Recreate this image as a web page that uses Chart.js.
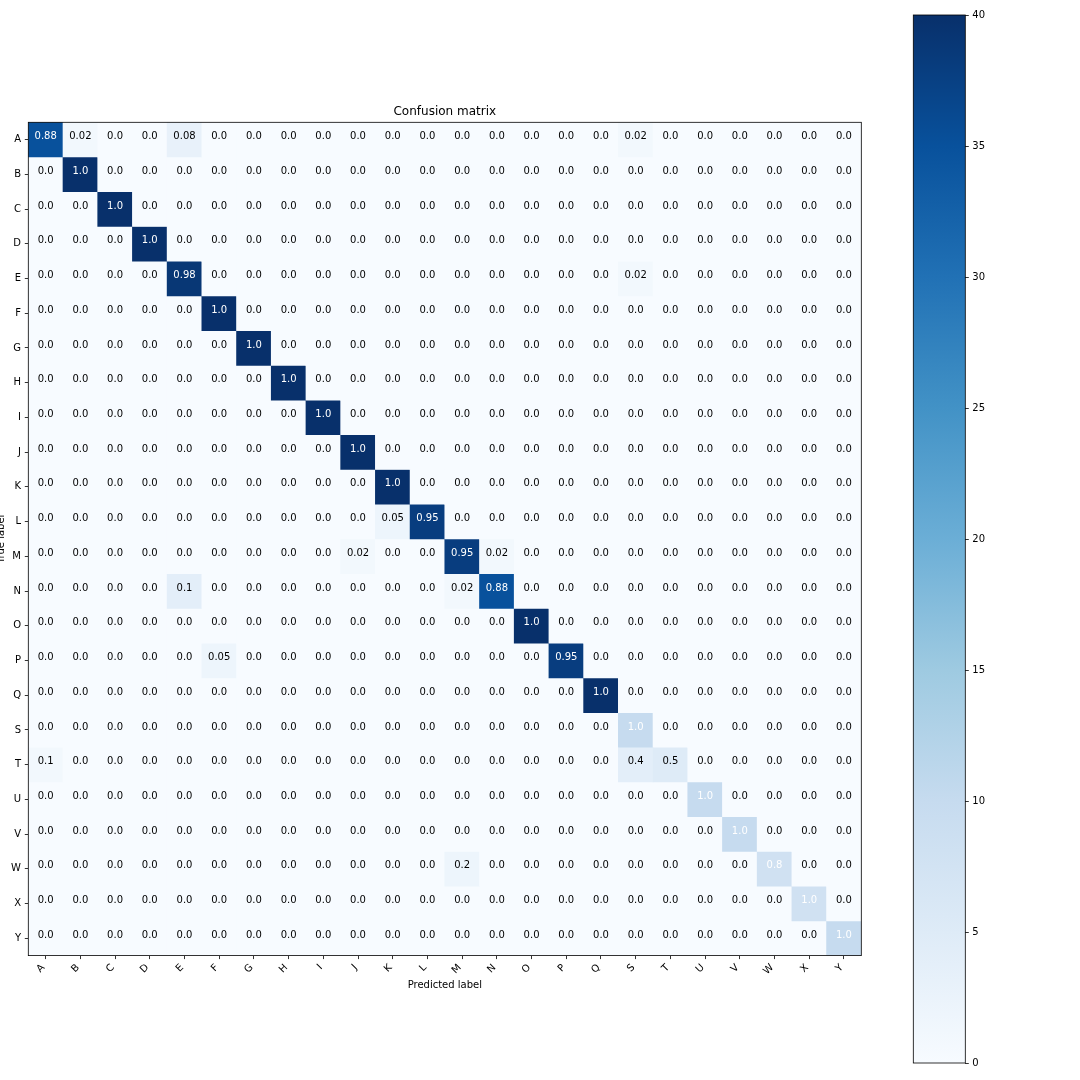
<!DOCTYPE html>
<html>
<head>
<meta charset="utf-8">
<script src="https://cdn.jsdelivr.net/npm/chart.js@4.4.1/dist/chart.umd.min.js"></script>
<style>
  html, body { margin: 0; padding: 0; background: #ffffff; }
  #wrap { position: relative; width: 1080px; height: 1080px; overflow: hidden; }
  #main { position: absolute; left: 0; top: 0; }
  #cbar { position: absolute; left: 900px; top: 0; }
</style>
</head>
<body>
<div id="wrap">
  <canvas id="main" width="1080" height="1080"></canvas>
  <canvas id="cbar" width="180" height="1080"></canvas>
</div>
<script>
// ---------------- DATA ----------------
const rowLabels = ['A','B','C','D','E','F','G','H','I','J','K','L','M','N','O','P','Q','S','T','U','V','W','X','Y'];
const colLabels = ['A','B','C','D','E','F','G','H','I','J','K','L','M','N','O','P','Q','S','T','U','V','W','X','Y'];

// Normalized rates shown as cell text (rows = true label, cols = predicted label)
const cellRates = [
  [0.88,0.02,0,0,0.08,0,0,0,0,0,0,0,0,0,0,0,0,0.02,0,0,0,0,0,0],
  [0,1,0,0,0,0,0,0,0,0,0,0,0,0,0,0,0,0,0,0,0,0,0,0],
  [0,0,1,0,0,0,0,0,0,0,0,0,0,0,0,0,0,0,0,0,0,0,0,0],
  [0,0,0,1,0,0,0,0,0,0,0,0,0,0,0,0,0,0,0,0,0,0,0,0],
  [0,0,0,0,0.98,0,0,0,0,0,0,0,0,0,0,0,0,0.02,0,0,0,0,0,0],
  [0,0,0,0,0,1,0,0,0,0,0,0,0,0,0,0,0,0,0,0,0,0,0,0],
  [0,0,0,0,0,0,1,0,0,0,0,0,0,0,0,0,0,0,0,0,0,0,0,0],
  [0,0,0,0,0,0,0,1,0,0,0,0,0,0,0,0,0,0,0,0,0,0,0,0],
  [0,0,0,0,0,0,0,0,1,0,0,0,0,0,0,0,0,0,0,0,0,0,0,0],
  [0,0,0,0,0,0,0,0,0,1,0,0,0,0,0,0,0,0,0,0,0,0,0,0],
  [0,0,0,0,0,0,0,0,0,0,1,0,0,0,0,0,0,0,0,0,0,0,0,0],
  [0,0,0,0,0,0,0,0,0,0,0.05,0.95,0,0,0,0,0,0,0,0,0,0,0,0],
  [0,0,0,0,0,0,0,0,0,0.02,0,0,0.95,0.02,0,0,0,0,0,0,0,0,0,0],
  [0,0,0,0,0.1,0,0,0,0,0,0,0,0.02,0.88,0,0,0,0,0,0,0,0,0,0],
  [0,0,0,0,0,0,0,0,0,0,0,0,0,0,1,0,0,0,0,0,0,0,0,0],
  [0,0,0,0,0,0.05,0,0,0,0,0,0,0,0,0,0.95,0,0,0,0,0,0,0,0],
  [0,0,0,0,0,0,0,0,0,0,0,0,0,0,0,0,1,0,0,0,0,0,0,0],
  [0,0,0,0,0,0,0,0,0,0,0,0,0,0,0,0,0,1,0,0,0,0,0,0],
  [0.1,0,0,0,0,0,0,0,0,0,0,0,0,0,0,0,0,0.4,0.5,0,0,0,0,0],
  [0,0,0,0,0,0,0,0,0,0,0,0,0,0,0,0,0,0,0,1,0,0,0,0],
  [0,0,0,0,0,0,0,0,0,0,0,0,0,0,0,0,0,0,0,0,1,0,0,0],
  [0,0,0,0,0,0,0,0,0,0,0,0,0.2,0,0,0,0,0,0,0,0,0.8,0,0],
  [0,0,0,0,0,0,0,0,0,0,0,0,0,0,0,0,0,0,0,0,0,0,1,0],
  [0,0,0,0,0,0,0,0,0,0,0,0,0,0,0,0,0,0,0,0,0,0,0,1]
];

// Raw counts that drive the colour scale
const cellCounts = [
  [35,1,0,0,3,0,0,0,0,0,0,0,0,0,0,0,0,1,0,0,0,0,0,0],
  [0,40,0,0,0,0,0,0,0,0,0,0,0,0,0,0,0,0,0,0,0,0,0,0],
  [0,0,40,0,0,0,0,0,0,0,0,0,0,0,0,0,0,0,0,0,0,0,0,0],
  [0,0,0,40,0,0,0,0,0,0,0,0,0,0,0,0,0,0,0,0,0,0,0,0],
  [0,0,0,0,39,0,0,0,0,0,0,0,0,0,0,0,0,1,0,0,0,0,0,0],
  [0,0,0,0,0,40,0,0,0,0,0,0,0,0,0,0,0,0,0,0,0,0,0,0],
  [0,0,0,0,0,0,40,0,0,0,0,0,0,0,0,0,0,0,0,0,0,0,0,0],
  [0,0,0,0,0,0,0,40,0,0,0,0,0,0,0,0,0,0,0,0,0,0,0,0],
  [0,0,0,0,0,0,0,0,40,0,0,0,0,0,0,0,0,0,0,0,0,0,0,0],
  [0,0,0,0,0,0,0,0,0,40,0,0,0,0,0,0,0,0,0,0,0,0,0,0],
  [0,0,0,0,0,0,0,0,0,0,40,0,0,0,0,0,0,0,0,0,0,0,0,0],
  [0,0,0,0,0,0,0,0,0,0,2,38,0,0,0,0,0,0,0,0,0,0,0,0],
  [0,0,0,0,0,0,0,0,0,1,0,0,38,1,0,0,0,0,0,0,0,0,0,0],
  [0,0,0,0,4,0,0,0,0,0,0,0,1,35,0,0,0,0,0,0,0,0,0,0],
  [0,0,0,0,0,0,0,0,0,0,0,0,0,0,40,0,0,0,0,0,0,0,0,0],
  [0,0,0,0,0,2,0,0,0,0,0,0,0,0,0,38,0,0,0,0,0,0,0,0],
  [0,0,0,0,0,0,0,0,0,0,0,0,0,0,0,0,40,0,0,0,0,0,0,0],
  [0,0,0,0,0,0,0,0,0,0,0,0,0,0,0,0,0,10,0,0,0,0,0,0],
  [1,0,0,0,0,0,0,0,0,0,0,0,0,0,0,0,0,4,5,0,0,0,0,0],
  [0,0,0,0,0,0,0,0,0,0,0,0,0,0,0,0,0,0,0,10,0,0,0,0],
  [0,0,0,0,0,0,0,0,0,0,0,0,0,0,0,0,0,0,0,0,10,0,0,0],
  [0,0,0,0,0,0,0,0,0,0,0,0,2,0,0,0,0,0,0,0,0,8,0,0],
  [0,0,0,0,0,0,0,0,0,0,0,0,0,0,0,0,0,0,0,0,0,0,8,0],
  [0,0,0,0,0,0,0,0,0,0,0,0,0,0,0,0,0,0,0,0,0,0,0,10]
];

const colorMin = 0;
const colorMax = 40;
const colorbarTicks = [0, 5, 10, 15, 20, 25, 30, 35, 40];

// ---------------- STYLE ----------------
const bluesStops = ['#f7fbff','#deebf7','#c6dbef','#9ecae1','#6baed6','#4292c6','#2171b5','#08519c','#08306b'];
function hexToRgb(h) { return [parseInt(h.slice(1,3),16), parseInt(h.slice(3,5),16), parseInt(h.slice(5,7),16)]; }
const bluesRgb = bluesStops.map(hexToRgb);
function blues(t) {
  t = Math.max(0, Math.min(1, t));
  const pos = t * (bluesRgb.length - 1);
  const k = Math.min(Math.floor(pos), bluesRgb.length - 2);
  const f = pos - k;
  const a = bluesRgb[k], b = bluesRgb[k + 1];
  const c = a.map((v, i) => Math.round(v + (b[i] - v) * f));
  return 'rgb(' + c.join(',') + ')';
}
function fmtRate(v) { return Number.isInteger(v) ? v.toFixed(1) : String(v); }

const FONT = 'DejaVu Sans';
Chart.defaults.font.family = FONT;
Chart.defaults.font.size = 10;
Chart.defaults.color = '#000';

// Main plot geometry (canvas px)
const areaLeft = 28.3, areaRight = 861.3, areaTop = 122.3, areaBottom = 955.6;
const cellTextShift = -3;

const bgPlugin = {
  id: 'bgFill',
  beforeDatasetsDraw(chart) {
    const {ctx, chartArea: a} = chart;
    ctx.save();
    ctx.fillStyle = blues(0);
    ctx.fillRect(a.left, a.top, a.right - a.left, a.bottom - a.top);
    ctx.restore();
  }
};
const framePlugin = {
  id: 'frame',
  afterDraw(chart) {
    const {ctx, chartArea: a} = chart;
    ctx.save();
    ctx.strokeStyle = '#000';
    ctx.lineWidth = 0.8;
    ctx.strokeRect(a.left, a.top, a.right - a.left, a.bottom - a.top);
    ctx.restore();
  }
};
const cellTextPlugin = {
  id: 'cellText',
  afterDatasetsDraw(chart) {
    const {ctx, scales: {x, y}} = chart;
    ctx.save();
    ctx.font = '10px "' + FONT + '"';
    ctx.textAlign = 'center';
    ctx.textBaseline = 'middle';
    rowLabels.forEach((r, i) => {
      colLabels.forEach((c, j) => {
        const v = cellRates[i][j];
        ctx.fillStyle = v > 0.5 ? '#ffffff' : '#000000';
        ctx.fillText(fmtRate(v), x.getPixelForValue(j), y.getPixelForValue(i + 0.5) + cellTextShift);
      });
    });
    ctx.restore();
  }
};

const datasets = rowLabels.map((r, i) => ({
  label: r,
  data: colLabels.map(() => [i, i + 1]),
  backgroundColor: cellCounts[i].map(v => blues((v - colorMin) / (colorMax - colorMin))),
  borderWidth: 0,
  barPercentage: 1,
  categoryPercentage: 1,
  grouped: false
}));

new Chart(document.getElementById('main'), {
  type: 'bar',
  data: { labels: colLabels, datasets },
  plugins: [bgPlugin, cellTextPlugin, framePlugin],
  options: {
    responsive: false,
    animation: false,
    devicePixelRatio: 1,
    layout: { autoPadding: false, padding: { left: 0, right: 1080 - areaRight, top: areaTop - 14.4 - 3.4, bottom: 1080 - areaBottom - 40 } },
    plugins: {
      legend: { display: false },
      tooltip: { enabled: false },
      title: {
        display: true, text: 'Confusion matrix', fullSize: false,
        font: { size: 12, weight: 'normal', family: FONT, lineHeight: 1.2 },
        color: '#000', padding: { top: 0, bottom: 3.4 }
      }
    },
    scales: {
      x: {
        type: 'category',
        offset: true,
        grid: { display: true, drawOnChartArea: false, drawTicks: true, tickLength: 3.5, offset: false, color: '#000', lineWidth: 0.8 },
        border: { display: false },
        ticks: { autoSkip: false, maxRotation: 45, minRotation: 45, padding: 2.7, labelOffset: -2.3, color: '#000', font: { size: 10 } },
        title: { display: true, text: 'Predicted label', color: '#000', font: { size: 10, lineHeight: 1.2 }, padding: { top: 0, bottom: 4.1 } },
        afterFit(s) { s.height = 40; }
      },
      y: {
        type: 'linear',
        min: 0, max: rowLabels.length,
        reverse: true,
        afterBuildTicks(s) { s.ticks = rowLabels.map((_, i) => ({ value: i + 0.5 })); },
        grid: { display: true, drawOnChartArea: false, drawTicks: true, tickLength: 3.5, color: '#000', lineWidth: 0.8 },
        border: { display: false },
        ticks: { autoSkip: false, padding: 3.8, color: '#000', font: { size: 10 }, callback: (v, i) => rowLabels[i] },
        title: { display: true, text: 'True label', color: '#000', font: { size: 10, lineHeight: 1.2 }, padding: { top: -4.7, bottom: 0 } },
        afterFit(s) { s.width = areaLeft; }
      }
    }
  }
});

// ---------------- COLORBAR ----------------
const cbLeft = 913.3 - 900, cbRight = 965.3 - 900, cbTop = 15, cbBottom = 1063;
const cbFrame = {
  id: 'cbFrame',
  afterDraw(chart) {
    const {ctx, chartArea: a} = chart;
    ctx.save();
    ctx.strokeStyle = '#000';
    ctx.lineWidth = 0.8;
    ctx.strokeRect(a.left, a.top, a.right - a.left, a.bottom - a.top);
    ctx.restore();
  }
};
new Chart(document.getElementById('cbar'), {
  type: 'bar',
  data: {
    labels: [''],
    datasets: [{
      data: [[colorMin, colorMax]],
      backgroundColor(ctx) {
        const a = ctx.chart.chartArea;
        if (!a) return blues(0.5);
        const g = ctx.chart.ctx.createLinearGradient(0, a.bottom, 0, a.top);
        bluesStops.forEach((c, k) => g.addColorStop(k / (bluesStops.length - 1), c));
        return g;
      },
      borderWidth: 0,
      barPercentage: 1,
      categoryPercentage: 1
    }]
  },
  plugins: [cbFrame],
  options: {
    responsive: false,
    animation: false,
    devicePixelRatio: 1,
    layout: { autoPadding: false, padding: { left: cbLeft, right: 0, top: cbTop, bottom: 1080 - cbBottom } },
    plugins: { legend: { display: false }, tooltip: { enabled: false } },
    scales: {
      x: { type: 'category', display: false, offset: true },
      y: {
        type: 'linear', position: 'right', min: colorMin, max: colorMax,
        afterBuildTicks(s) { s.ticks = colorbarTicks.map(v => ({ value: v })); },
        grid: { display: true, drawOnChartArea: false, drawTicks: true, tickLength: 3.5, color: '#000', lineWidth: 0.8 },
        border: { display: false },
        ticks: { padding: 3.5, color: '#000', font: { size: 10 }, callback: v => String(v) },
        afterFit(s) { s.width = 180 - cbRight; }
      }
    }
  }
});
</script>
</body>
</html>
